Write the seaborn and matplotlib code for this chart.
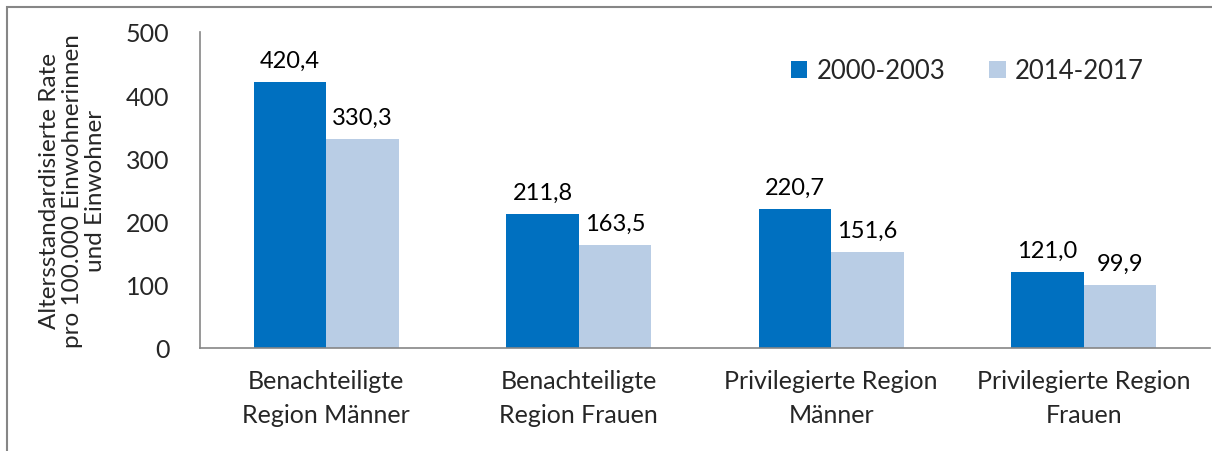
import matplotlib
matplotlib.use("Agg")
import matplotlib.pyplot as plt
import seaborn as sns
import pandas as pd
from matplotlib.patches import Rectangle

categories = ["Benachteiligte\nRegion Männer", "Benachteiligte\nRegion Frauen",
              "Privilegierte Region\nMänner", "Privilegierte Region\nFrauen"]
series_names = ["2000-2003", "2014-2017"]
values_2000 = [420.4, 211.8, 220.7, 121.0]
values_2014 = [330.3, 163.5, 151.6, 99.9]
y_ticks = [0, 100, 200, 300, 400, 500]
y_label = "Altersstandardisierte Rate\npro 100.000 Einwohnerinnen\nund Einwohner"
colors = ["#0070C0", "#B9CDE5"]

df = pd.DataFrame({
    "Kategorie": categories * 2,
    "Zeitraum": [series_names[0]] * 4 + [series_names[1]] * 4,
    "Wert": values_2000 + values_2014,
})

sns.set_theme(style="white")
plt.rcParams["font.family"] = ["Lato", "DejaVu Sans"]

fig = plt.figure(figsize=(12.12, 4.52), dpi=100)
ax = fig.add_axes([200 / 1212, 1 - 349 / 452, 1010 / 1212, 316 / 452])

sns.barplot(data=df, x="Kategorie", y="Wert", hue="Zeitraum", order=categories,
            hue_order=series_names, palette=colors, width=0.575, saturation=1,
            ax=ax, edgecolor="none", linewidth=0)

for cont in ax.containers:
    ax.bar_label(cont, labels=[f"{v:.1f}".replace(".", ",") for v in cont.datavalues],
                 padding=8, fontsize=17, color="black")

ax.set_xlim(-0.5, 3.5)
ax.set_ylim(0, 500)
ax.set_yticks(y_ticks)
ax.set_yticklabels([str(t) for t in y_ticks], fontsize=18)
ax.set_xlabel("")
ax.set_ylabel(y_label, fontsize=17.5, linespacing=1.12, labelpad=14)
ax.tick_params(axis="x", which="major", length=0, pad=15, labelsize=18)
for lbl in ax.get_xticklabels():
    lbl.set_linespacing(1.6)
ax.set_xticks([-0.5, 0.5, 1.5, 2.5, 3.5], minor=True)
ax.tick_params(axis="x", which="minor", length=8, width=1.2, color="#868686", direction="out")
ax.tick_params(axis="y", length=8, width=1.2, color="#868686", direction="out", pad=14)
for s in ["top", "right"]:
    ax.spines[s].set_visible(False)
for s in ["left", "bottom"]:
    ax.spines[s].set_color("#868686")
    ax.spines[s].set_linewidth(1.2)

leg = ax.legend(loc="upper right", bbox_to_anchor=(0.957, 0.99), ncol=2, frameon=False,
                fontsize=18.5, handlelength=0.65, handleheight=0.65, handletextpad=0.35,
                columnspacing=1.7)

fig.patches.append(Rectangle((7 / 1212, -0.1), 1.2, 1.1 - 8 / 452, transform=fig.transFigure,
                             fill=False, edgecolor="#868686", linewidth=1.5))

fig.savefig("out.png", dpi=100)
